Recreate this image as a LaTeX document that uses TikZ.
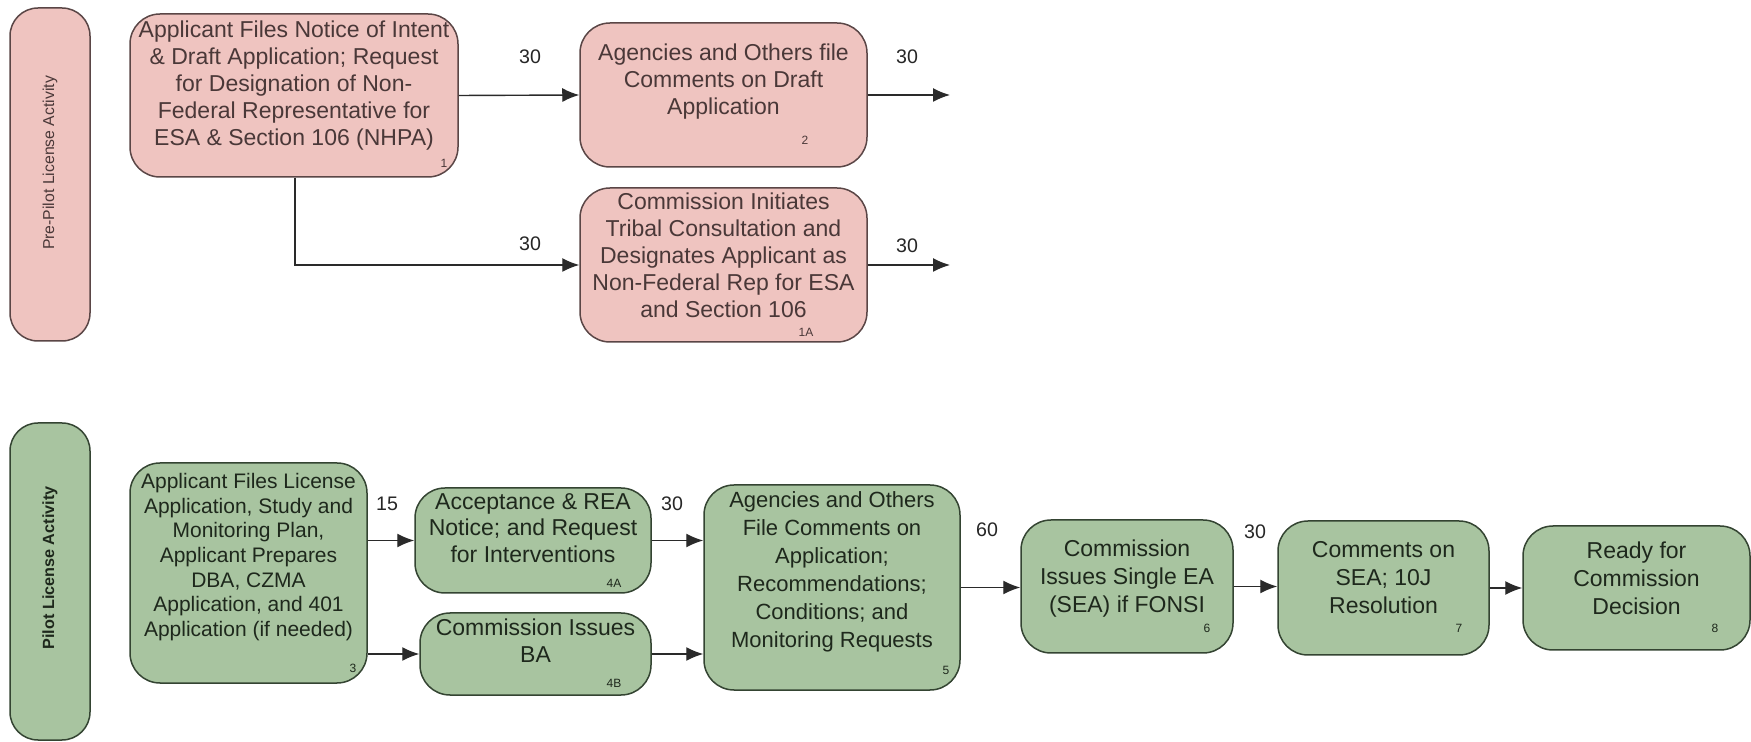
\documentclass[tikz,border=0pt]{standalone}
\usepackage{fontspec}
\setmainfont{Liberation Sans}
\usetikzlibrary{arrows.meta}
\definecolor{pinkfill}{HTML}{EFC4C0}
\definecolor{pinkline}{HTML}{5A4646}
\definecolor{pinktext}{HTML}{4A3838}
\definecolor{greenfill}{HTML}{A8C4A0}
\definecolor{greenline}{HTML}{344432}
\definecolor{greentext}{HTML}{1E281C}
\definecolor{arrowcol}{HTML}{2A2A2A}
\tikzset{
  pinkbox/.style={draw=pinkline, fill=pinkfill, line width=0.75pt, rounded corners=15pt, inner sep=0pt},
  greenbox/.style={draw=greenline, fill=greenfill, line width=0.75pt, rounded corners=15pt, inner sep=0pt},
  lanebox/.style={rounded corners=14pt, line width=0.75pt, inner sep=0pt, minimum width=40pt},
  ptext/.style={align=center, text=pinktext, inner sep=0pt, font=\fontsize{11.5}{13.5}\selectfont},
  gtext/.style={align=center, text=greentext, inner sep=0pt, font=\fontsize{11.5}{14}\selectfont},
  gtextsm/.style={align=center, text=greentext, inner sep=0pt, font=\fontsize{10.5}{12.3}\selectfont},
  numlbl/.style={inner sep=0pt, font=\fontsize{6}{7}\selectfont},
  edgelbl/.style={inner sep=0pt, text=black!85, font=\fontsize{9.8}{11}\selectfont},
  flow/.style={draw=arrowcol, line width=0.7pt, -{Latex[length=8.5pt,width=7pt]}},
}
\begin{document}
\begin{tikzpicture}[x=0.5pt,y=-0.5pt]
\useasboundingbox[fill=white] (0,0) rectangle (1751,742);

% lanes
\node[lanebox, pinkbox, rounded corners=14pt, minimum width=40pt, minimum height=166.5pt] (LP) at (50,174.5) {};
\node[rotate=90, text=pinktext, inner sep=0pt, font=\fontsize{7.9}{9}\selectfont] (LPt) at (50,163) {Pre-Pilot License Activity};
\node[lanebox, greenbox, rounded corners=14pt, minimum width=40pt, minimum height=158.5pt] (LG) at (50,581.5) {};
\node[rotate=90, text=greentext, inner sep=0pt, font=\bfseries\fontsize{8.1}{9}\selectfont] (LGt) at (50,568) {Pilot License Activity};

% pre-pilot boxes
\node[pinkbox, minimum width=164pt, minimum height=81.5pt] (B1) at (294,95.5) {};
\node[ptext] (B1t) at (294,86) {Applicant Files Notice of Intent\\ \& Draft Application; Request\\ for Designation of Non-\\ Federal Representative for\\ ESA \& Section 106 (NHPA)};
\node[numlbl, text=pinktext] (B1n) at (444,163) {1};

\node[pinkbox, minimum width=143.5pt, minimum height=72pt] (B2) at (723.5,95) {};
\node[ptext] (B2t) at (723.5,82) {Agencies and Others file\\ Comments on Draft\\ Application};
\node[numlbl, text=pinktext] (B2n) at (805,140) {2};

\node[pinkbox, minimum width=143.5pt, minimum height=77pt] (B1A) at (723.5,265) {};
\node[ptext] (B1At) at (723.5,255) {Commission Initiates\\ Tribal Consultation and\\ Designates Applicant as\\ Non-Federal Rep for ESA\\ and Section 106};
\node[numlbl, text=pinktext] (B1An) at (806,332) {1A};

\coordinate (O2) at (950,95);
\coordinate (O1A) at (950,265);
\coordinate (K1) at (295,265);

\draw[flow] (B1.east) -- (B2.west);
\node[edgelbl] (L12) at (530,57) {30};
\draw[flow] (B2.east) -- (O2);
\node[edgelbl] (L2o) at (907,57) {30};
\draw[flow] (B1.south -| K1) -- (K1) -- (B1A.west);
\node[edgelbl] (L11A) at (530,244) {30};
\draw[flow] (B1A.east) -- (O1A);
\node[edgelbl] (L1Ao) at (907,246) {30};

% pilot boxes
\node[greenbox, minimum width=118.5pt, minimum height=110pt] (B3) at (248.5,573) {};
\node[gtextsm] (B3t) at (248.5,557) {Applicant Files License\\ Application, Study and\\ Monitoring Plan,\\ Applicant Prepares\\ DBA, CZMA\\ Application, and 401\\ Application (if needed)};
\node[numlbl, text=greentext] (B3n) at (353,668) {3};

\node[greenbox, minimum width=118pt, minimum height=52.5pt] (B4A) at (533,540.5) {};
\node[gtext, font=\fontsize{11.5}{13.3}\selectfont] (B4At) at (533,528) {Acceptance \& REA\\ Notice; and Request\\ for Interventions};
\node[numlbl, text=greentext] (B4An) at (614,583) {4A};

\node[greenbox, minimum width=115.5pt, minimum height=41pt] (B4B) at (535.5,654) {};
\node[gtext, font=\fontsize{11.5}{13.5}\selectfont] (B4Bt) at (535.5,641) {Commission Issues\\ BA};
\node[numlbl, text=greentext] (B4Bn) at (614,683) {4B};

\node[greenbox, minimum width=128pt, minimum height=102.5pt] (B5) at (832,587.5) {};
\node[gtext, font=\fontsize{11}{14}\selectfont] (B5t) at (832,572) {Agencies and Others\\ File Comments on\\ Application;\\ Recommendations;\\ Conditions; and\\ Monitoring Requests};
\node[numlbl, text=greentext] (B5n) at (946,670) {5};

\node[greenbox, minimum width=106pt, minimum height=66.5pt] (B6) at (1127,586.5) {};
\node[gtext] (B6t) at (1127,579) {Commission\\ Issues Single EA\\ (SEA) if FONSI};
\node[numlbl, text=greentext] (B6n) at (1207,628) {6};

\node[greenbox, minimum width=105.5pt, minimum height=67pt] (B7) at (1383.5,588) {};
\node[gtext] (B7t) at (1383.5,578) {Comments on\\ SEA; 10J\\ Resolution};
\node[numlbl, text=greentext] (B7n) at (1459,628) {7};

\node[greenbox, minimum width=113.5pt, minimum height=62pt] (B8) at (1636.5,588) {};
\node[gtext] (B8t) at (1636.5,578) {Ready for\\ Commission\\ Decision};
\node[numlbl, text=greentext] (B8n) at (1715,628) {8};

% pilot connectors
\draw[flow] (B3.east |- B4A.west) -- (B4A.west);
\node[edgelbl] (L34) at (387,504) {15};
\draw[flow] (B3.east |- B4B.west) -- (B4B.west);
\draw[flow] (B4A.east) -- (B5.west |- B4A.east);
\node[edgelbl] (L45) at (672,504) {30};
\draw[flow] (B4B.east) -- (B5.west |- B4B.east);
\draw[flow] (B5.east) -- (B6.west |- B5.east);
\node[edgelbl] (L56) at (987,530) {60};
\draw[flow] (B6.east) -- (B7.west |- B6.east);
\node[edgelbl] (L67) at (1255,532) {30};
\draw[flow] (B7.east) -- (B8.west |- B7.east);
\end{tikzpicture}
\end{document}
